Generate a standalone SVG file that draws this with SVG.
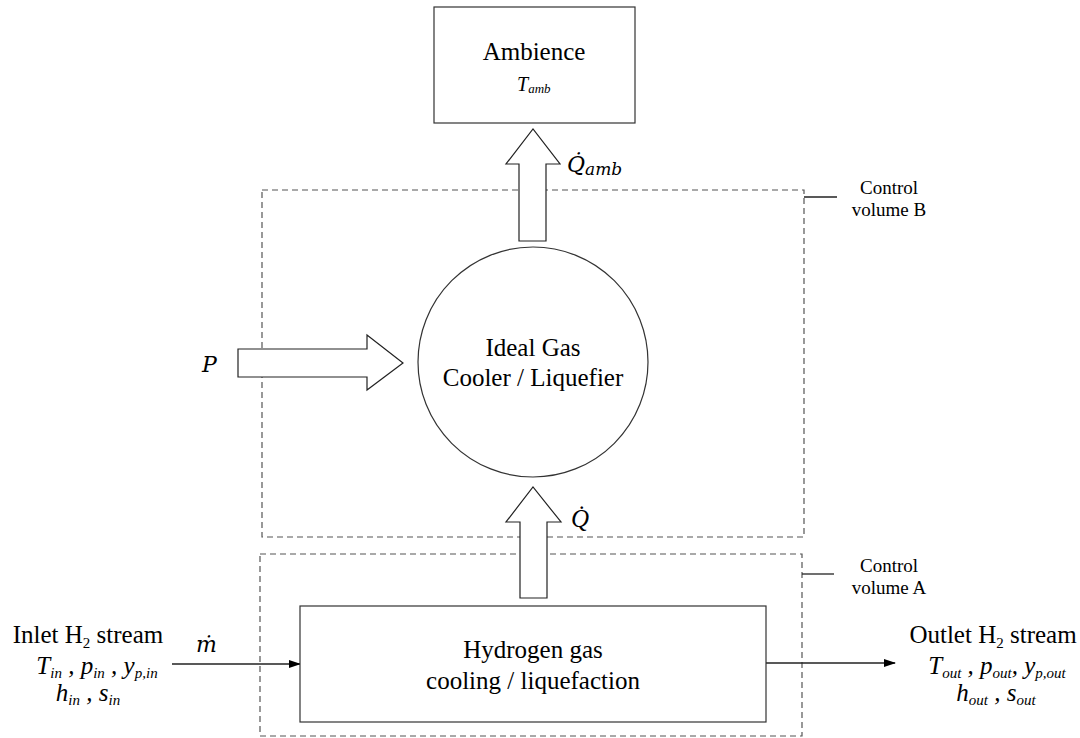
<svg xmlns="http://www.w3.org/2000/svg" width="1080" height="738" viewBox="0 0 1080 738">
  <style>
    .txt { font-family: "Liberation Serif", "Times New Roman", serif; fill: #000; }
    .lbl { font-size: 25px; }
    .ctl { font-size: 19px; }
    .it { font-style: italic; }
    .sub { font-size: 15px; }
    .math { font-family: "DejaVu Serif", "Liberation Serif", serif; font-style: italic; fill: #000; }
    .box { fill: #fff; stroke: #333; stroke-width: 1.2; }
    .cv { fill: none; stroke: #555; stroke-width: 1.2; stroke-dasharray: 6 4; }
    .flow { fill: #fff; stroke: #222; stroke-width: 1.2; stroke-linejoin: miter; }
    .line { stroke: #222; stroke-width: 1.3; fill: none; }
  </style>
  <defs>
    <marker id="arrowhead" markerWidth="12" markerHeight="8" refX="11" refY="4" orient="auto" markerUnits="userSpaceOnUse">
      <path d="M0,0 L12,4 L0,8 z" fill="#000"/>
    </marker>
  </defs>
  <rect width="1080" height="738" fill="#fff"/>

  <!-- control volumes -->
  <g id="control-volume-b">
    <rect class="cv" x="262" y="190" width="542" height="347"/>
    <line class="line" x1="804" y1="197" x2="837" y2="197"/>
    <text class="txt ctl" x="889" y="194" text-anchor="middle">Control</text>
    <text class="txt ctl" x="889" y="216" text-anchor="middle">volume B</text>
  </g>
  <g id="control-volume-a">
    <rect class="cv" x="260" y="554" width="542" height="182"/>
    <line class="line" x1="802" y1="574" x2="834" y2="574"/>
    <text class="txt ctl" x="889" y="572" text-anchor="middle">Control</text>
    <text class="txt ctl" x="889" y="594" text-anchor="middle">volume A</text>
  </g>

  <!-- connectors: heat / power flows and stream lines -->
  <g id="connectors">
    <polygon class="flow" points="519,241 519,164 506,164 533,129 560,164 546,164 546,241"/>
    <polygon class="flow" points="238,349 367,349 367,335 403,363 367,390 367,377 238,377"/>
    <polygon class="flow" points="520,598 520,522 506,522 533,487 561,522 547,522 547,598"/>
    <line class="line" x1="172" y1="664" x2="300" y2="664" marker-end="url(#arrowhead)"/>
    <line class="line" x1="766" y1="663" x2="895" y2="663" marker-end="url(#arrowhead)"/>
    <text class="math" x="567" y="172" font-size="22">Q&#x307;<tspan font-size="17" dy="3">amb</tspan></text>
    <text class="math" x="202" y="372" font-size="22">P</text>
    <text class="txt it" x="571" y="527" font-size="25">Q&#x307;</text>
    <text class="math" x="196" y="652" font-size="22">m&#x307;</text>
  </g>

  <!-- ambience -->
  <g id="ambience">
    <rect class="box" x="434" y="7" width="201" height="116"/>
    <text class="txt lbl" x="534" y="60" text-anchor="middle">Ambience</text>
    <text class="txt it" x="517" y="91" font-size="20">T<tspan font-size="13" dy="2">amb</tspan></text>
  </g>

  <!-- ideal cooler / liquefier -->
  <g id="ideal-cooler">
    <circle class="box" cx="533" cy="362" r="115"/>
    <text class="txt lbl" x="533" y="356" text-anchor="middle">Ideal Gas</text>
    <text class="txt lbl" x="533" y="386" text-anchor="middle">Cooler / Liquefier</text>
  </g>

  <!-- hydrogen process -->
  <g id="hydrogen-process">
    <rect class="box" x="300" y="606" width="466" height="116"/>
    <text class="txt lbl" x="533" y="658" text-anchor="middle">Hydrogen gas</text>
    <text class="txt lbl" x="533" y="689" text-anchor="middle">cooling / liquefaction</text>
  </g>

  <!-- inlet stream -->
  <g id="inlet-stream">
    <text class="txt lbl" x="88" y="643" text-anchor="middle">Inlet H<tspan class="sub" dy="5">2</tspan><tspan dy="-5"> stream</tspan></text>
    <text class="txt lbl it" x="97" y="674" text-anchor="middle">T<tspan class="sub" dy="4">in</tspan><tspan dy="-4"> , p</tspan><tspan class="sub" dy="4">in</tspan><tspan dy="-4"> , y</tspan><tspan class="sub" dy="4">p,in</tspan></text>
    <text class="txt lbl it" x="88" y="701" text-anchor="middle">h<tspan class="sub" dy="4">in</tspan><tspan dy="-4"> , s</tspan><tspan class="sub" dy="4">in</tspan></text>
  </g>

  <!-- outlet stream -->
  <g id="outlet-stream">
    <text class="txt lbl" x="993" y="643" text-anchor="middle">Outlet H<tspan class="sub" dy="5">2</tspan><tspan dy="-5"> stream</tspan></text>
    <text class="txt lbl it" x="997" y="674" text-anchor="middle">T<tspan class="sub" dy="4">out</tspan><tspan dy="-4"> , p</tspan><tspan class="sub" dy="4">out</tspan><tspan dy="-4">, y</tspan><tspan class="sub" dy="4">p,out</tspan></text>
    <text class="txt lbl it" x="996" y="701" text-anchor="middle">h<tspan class="sub" dy="4">out</tspan><tspan dy="-4"> , s</tspan><tspan class="sub" dy="4">out</tspan></text>
  </g>
</svg>
